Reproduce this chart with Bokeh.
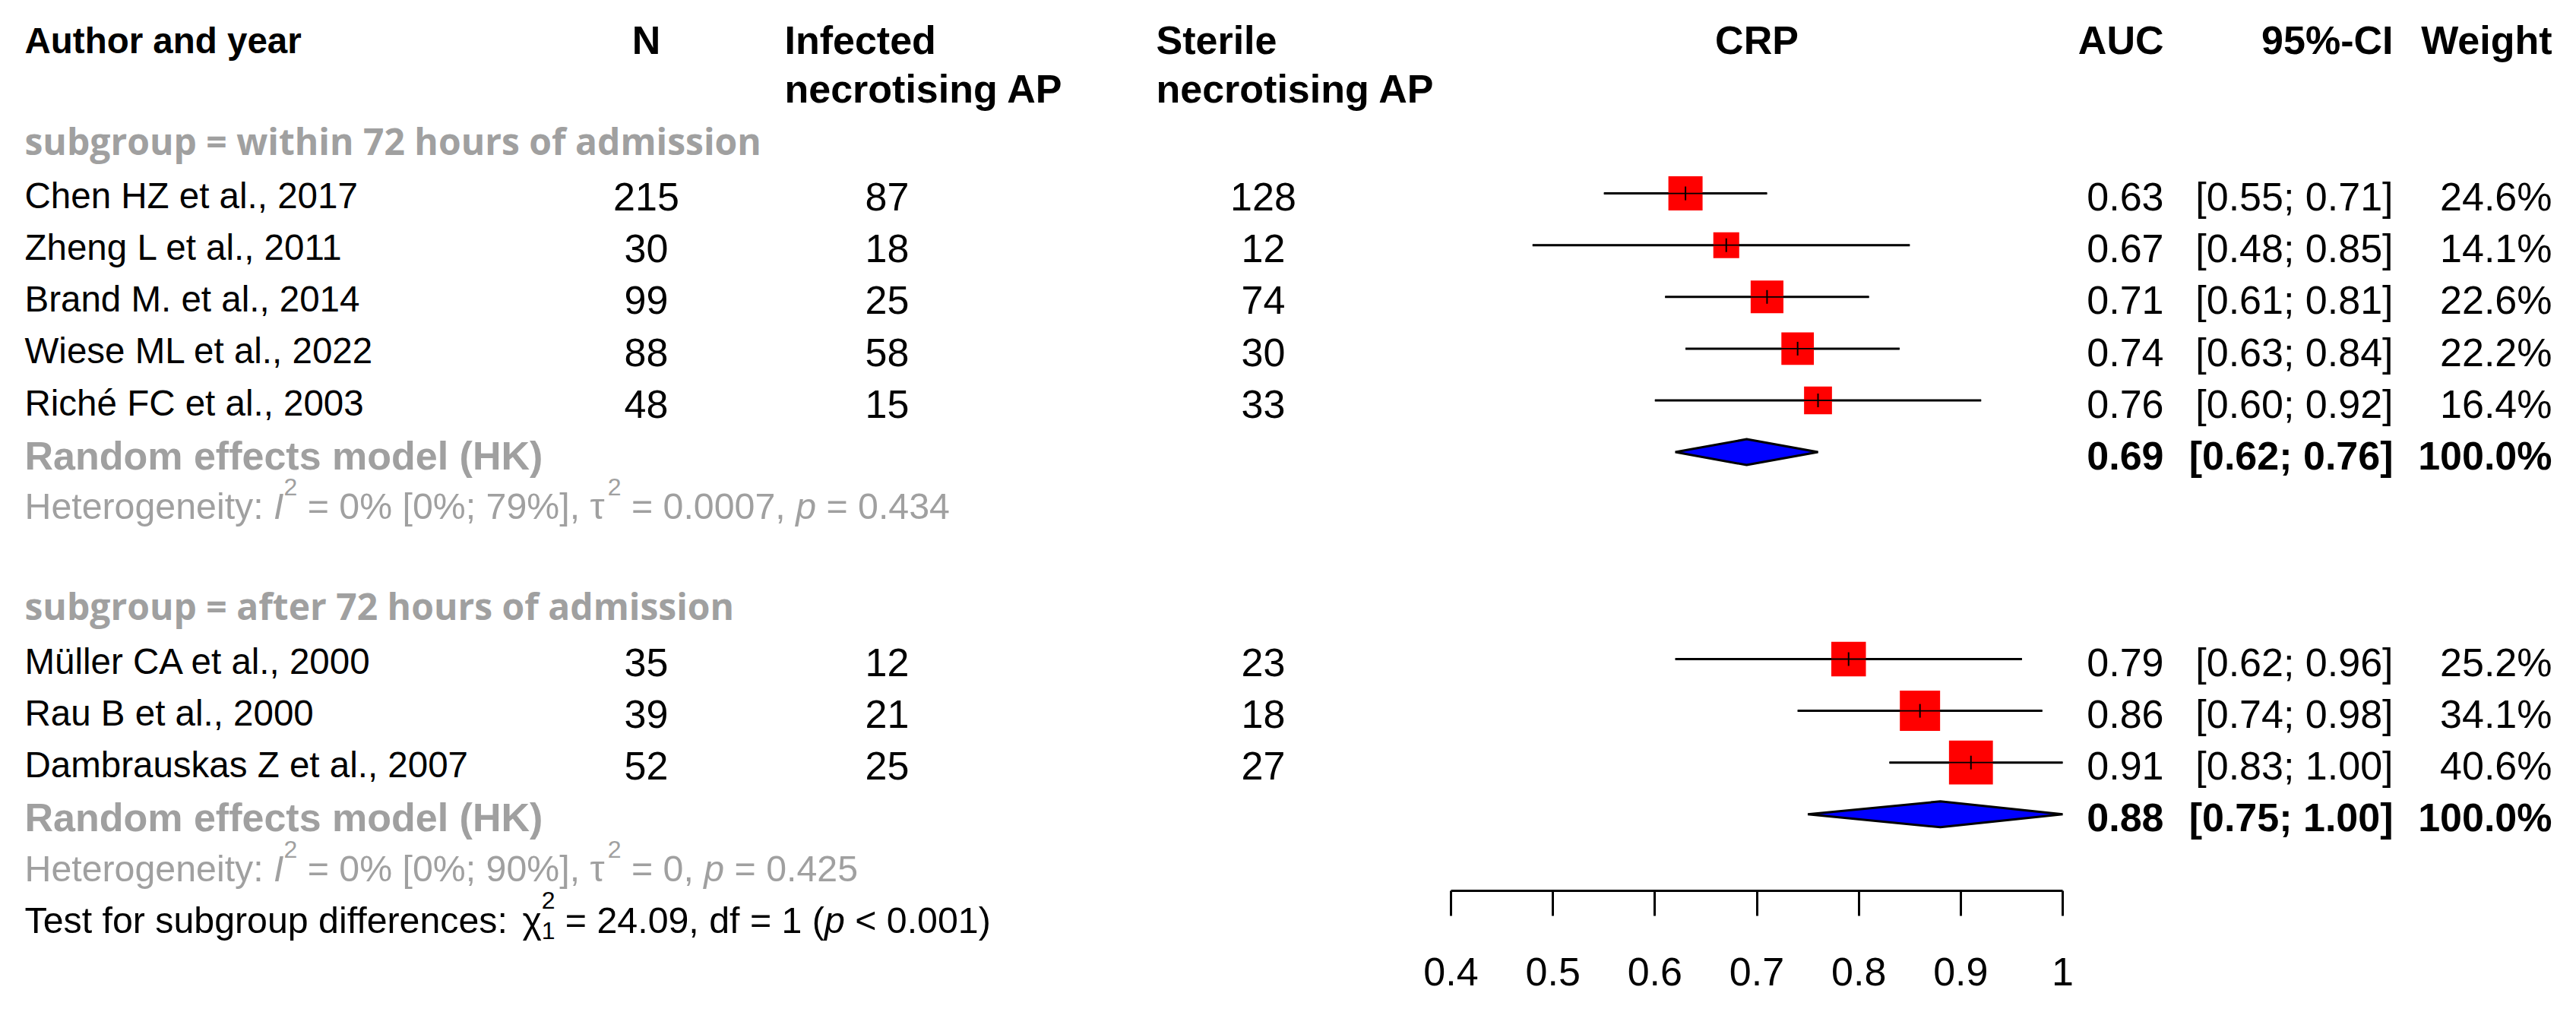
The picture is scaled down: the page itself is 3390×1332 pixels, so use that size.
import math
from bokeh.plotting import figure
from bokeh.models import Range1d, LinearAxis, FixedTicker, ColumnDataSource, Label
from bokeh.embed import file_html
from bokeh.resources import INLINE
from bokeh.core.properties import value

# ---------------- data ----------------
studies = ["Chen HZ et al., 2017", "Zheng L et al., 2011", "Brand M. et al., 2014",
           "Wiese ML et al., 2022", "Riché FC et al., 2003",
           "Müller CA et al., 2000", "Rau B et al., 2000", "Dambrauskas Z et al., 2007"]
n_total = [215, 30, 99, 88, 48, 35, 39, 52]
infected = [87, 18, 25, 58, 15, 12, 21, 25]
sterile = [128, 12, 74, 30, 33, 23, 18, 27]
auc = [0.63, 0.67, 0.71, 0.74, 0.76, 0.79, 0.86, 0.91]
ci_lo = [0.55, 0.48, 0.61, 0.63, 0.60, 0.62, 0.74, 0.83]
ci_hi = [0.71, 0.85, 0.81, 0.84, 0.92, 0.96, 0.98, 1.00]
weight = [24.6, 14.1, 22.6, 22.2, 16.4, 25.2, 34.1, 40.6]
study_rows = [1, 2, 3, 4, 5, 10, 11, 12]

subgroups = ["subgroup = within 72 hours of admission", "subgroup = after 72 hours of admission"]
subgroup_rows = [0, 9]
re_label = "Random effects model (HK)"
re_auc = [0.69, 0.88]
re_lo = [0.62, 0.75]
re_hi = [0.76, 1.00]
re_weight = [100.0, 100.0]
re_rows = [6, 13]
het_I2 = ["0%", "0%"]
het_I2_ci = ["[0%; 79%]", "[0%; 90%]"]
het_tau2 = ["0.0007", "0"]
het_p = ["0.434", "0.425"]
het_rows = [7, 14]
test_chi2 = "24.09"
test_df = "1"
test_p = "< 0.001"
test_row = 15

ticks = [0.4, 0.5, 0.6, 0.7, 0.8, 0.9, 1.0]
tick_labels = ["0.4", "0.5", "0.6", "0.7", "0.8", "0.9", "1"]

# ---------------- layout ----------------
W_FIG, H_FIG = 3374, 1316
PAGE = 8
X04_PX, X10_PX = 1917.0, 2722.0
SCALE = (X10_PX - X04_PX) / 0.6
x_start = 0.4 - (X04_PX - PAGE) / SCALE
x_end = x_start + W_FIG / SCALE
ROW0, ROW_H = 194.0, 68.1
AXIS_PX = 1180.0
TXT_DY = -14.0


def X(px):
    return x_start + (px - PAGE) / SCALE


def Y(py):
    return (py - ROW0) / ROW_H


def row_px(r):
    return ROW0 + r * ROW_H


y_start, y_end = Y(PAGE + H_FIG), Y(PAGE)

FONT = "Liberation Sans"
GRAY = "#A0A0A0"
FS = 52
FS_NAME = 47.5
FS2 = 48.3


def base(size):
    return 0.358 * size + TXT_DY


p = figure(width=W_FIG, height=H_FIG, x_range=Range1d(x_start, x_end),
           y_range=Range1d(y_start, y_end), output_backend="svg",
           toolbar_location=None, min_border_left=0, min_border_right=0,
           min_border_top=0, min_border_bottom=0,
           x_axis_type=None, y_axis_type=None)
p.outline_line_color = None
p.background_fill_color = "white"
p.border_fill_color = "white"

ax = LinearAxis(ticker=FixedTicker(ticks=ticks), bounds=(0.4, 1.0),
                fixed_location=Y(AXIS_PX),
                major_tick_in=0, major_tick_out=33, minor_tick_in=0, minor_tick_out=0,
                axis_line_width=3, major_tick_line_width=3,
                axis_line_color="black", major_tick_line_color="black",
                major_label_text_font_size=f"{FS}px", major_label_text_font=FONT,
                major_label_text_color="black", major_label_standoff=55,
                major_label_overrides={t: l for t, l in zip(ticks, tick_labels)})
p.add_layout(ax, "below")


def txt(x, y, t, align="left", size=FS, style="normal", color="black", font=FONT):
    src = ColumnDataSource(dict(x=x, y=y, t=t))
    p.text(x="x", y="y", text="t", source=src, text_align=align,
           text_baseline="alphabetic", text_font=value(font),
           text_font_size=f"{size}px", text_font_style=style, text_color=color)


# headers
HB = 0.358 * FS - 12
hb1 = Y(54 + HB)
hb2 = Y(118 + HB)
txt([X(40)], [hb1], ["Author and year"], style="bold", size=47.5)
txt([X(858)], [hb1], ["N"], align="center", style="bold")
txt([X(1040), X(1040)], [hb1, hb2], ["Infected", "necrotising AP"], style="bold")
txt([X(1529), X(1529)], [hb1, hb2], ["Sterile", "necrotising AP"], style="bold")
txt([0.7], [hb1], ["CRP"], align="center", style="bold")
txt([X(2855)], [hb1], ["AUC"], align="right", style="bold")
txt([X(3157)], [hb1], ["95%-CI"], align="right", style="bold")
txt([X(3366)], [hb1], ["Weight"], align="right", style="bold")

# subgroup titles
txt([X(40)] * 2, [Y(row_px(r) + 12.5 + TXT_DY) for r in subgroup_rows], subgroups,
    size=48, style="bold", color=GRAY, font="Open Sans")

# study rows
sb = [Y(row_px(r) + base(FS)) for r in study_rows]
sbn = [Y(row_px(r) + base(FS_NAME)) for r in study_rows]
txt([X(40)] * len(studies), sbn, studies, size=FS_NAME)
txt([X(858)] * len(studies), sb, [str(v) for v in n_total], align="center")
txt([X(1175)] * len(studies), sb, [str(v) for v in infected], align="center")
txt([X(1670)] * len(studies), sb, [str(v) for v in sterile], align="center")
txt([X(2855)] * len(studies), sb, [f"{v:.2f}" for v in auc], align="right")
txt([X(3157)] * len(studies), sb, [f"[{a:.2f}; {b:.2f}]" for a, b in zip(ci_lo, ci_hi)], align="right")
txt([X(3366)] * len(studies), sb, [f"{w:.1f}%" for w in weight], align="right")

# pooled rows
rb = [Y(row_px(r) + base(FS)) for r in re_rows]
txt([X(40)] * 2, rb, [re_label] * 2, style="bold", color=GRAY)
txt([X(2855)] * 2, rb, [f"{v:.2f}" for v in re_auc], align="right", style="bold")
txt([X(3157)] * 2, rb, [f"[{a:.2f}; {b:.2f}]" for a, b in zip(re_lo, re_hi)], align="right", style="bold")
txt([X(3366)] * 2, rb, [f"{w:.1f}%" for w in re_weight], align="right", style="bold")

# forest marks
p.segment(x0=ci_lo, y0=study_rows, x1=ci_hi, y1=study_rows, line_width=3, line_color="black")
sizes = [9.07 * math.sqrt(w) for w in weight]
p.scatter(x=auc, y=study_rows, size=sizes, marker="square", fill_color="#FF0000",
          line_color=None)
p.segment(x0=ci_lo, y0=study_rows, x1=ci_hi, y1=study_rows, line_width=1.8, line_color="black")
p.scatter(x=auc, y=study_rows, size=18, marker="dash", angle=math.pi / 2,
          line_color="black", line_width=2)

DH = 17.0 / ROW_H
xs = [[lo, est, hi, est] for lo, est, hi in zip(re_lo, re_auc, re_hi)]
ys = [[r, r - DH, r, r + DH] for r in re_rows]
p.patches(xs, ys, fill_color="#0000FF", line_color="black", line_width=3)

# inline formatted texts
CW = {' ': 278, '%': 889, '[': 278, ']': 278, ';': 278, ',': 278, '.': 278, ':': 278,
      '=': 584, '<': 584, '(': 333, ')': 333, 'H': 722, 'T': 611, 'I': 278,
      'a': 556, 'b': 556, 'c': 500, 'd': 556, 'e': 556, 'f': 278, 'g': 556, 'h': 556,
      'i': 222, 'l': 222, 'm': 833, 'n': 556, 'o': 556, 'p': 556, 'r': 333, 's': 500,
      't': 278, 'u': 556, 'y': 500, 'τ': 480, 'χ': 520}
NB = "\u00a0"


def tw(t, size):
    return sum(CW.get(c, 556) for c in t) / 1000.0 * size


def seq(parts, x0, base_px, color):
    x = x0
    for t, size, style, dy, adv in parts:
        shown = t
        if shown.startswith(" "):
            shown = NB + shown[1:]
        if shown.endswith(" "):
            shown = shown[:-1] + NB
        p.add_layout(Label(x=X(x), y=Y(base_px + dy), text=shown, text_font=FONT,
                           text_font_size=f"{size}px", text_font_style=style,
                           text_color=color, text_align="left",
                           text_baseline="alphabetic"))
        if adv:
            x += tw(t, size)


SUP = 32
for i in range(2):
    b = row_px(het_rows[i]) + base(FS2)
    seq([("Heterogeneity: ", FS2, "normal", 0, True),
         ("I", FS2, "italic", 0, True),
         ("2", SUP, "normal", -25, True),
         (f" = {het_I2[i]} {het_I2_ci[i]}, ", FS2, "normal", 0, True),
         ("τ", FS2, "normal", 0, True),
         ("2", SUP, "normal", -25, True),
         (f" = {het_tau2[i]}, ", FS2, "normal", 0, True),
         ("p", FS2, "italic", 0, True),
         (f" = {het_p[i]}", FS2, "normal", 0, True)], 40, b, GRAY)

b = row_px(test_row) + base(FS2)
seq([("Test for subgroup differences: ", FS2, "normal", 0, True),
     ("χ", FS2, "normal", 0, True),
     ("2", SUP, "normal", -26, False),
     ("1", SUP, "normal", 14, True),
     (f" = {test_chi2}, df = {test_df} (", FS2, "normal", 0, True),
     ("p", FS2, "italic", 0, True),
     (f" {test_p})", FS2, "normal", 0, True)], 40, b, "black")

open("out.html", "w").write(file_html(p, INLINE))
